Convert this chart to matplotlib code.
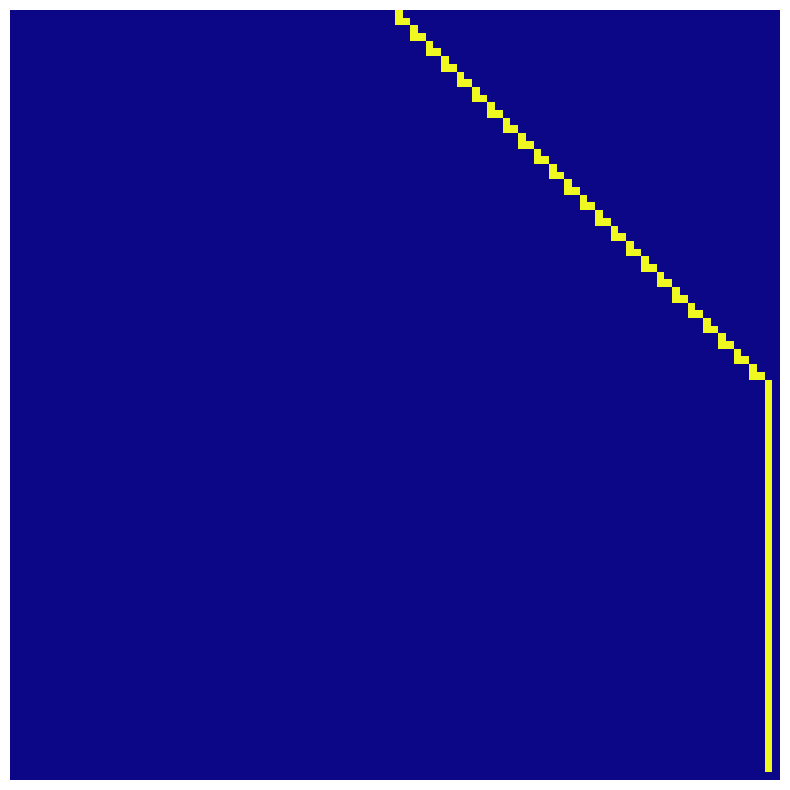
import numpy as np
import matplotlib
matplotlib.use("Agg")
import matplotlib.pyplot as plt

n_rows = 100
n_cols = 100

# staircase: each step is one cell, then two cells on the row below
step_cols = [50, 52, 54, 56, 58, 60, 62, 64, 66, 68, 70, 72,
             74, 76, 78, 80, 82, 84, 86, 88, 90, 92, 94, 96]
# vertical tail after the staircase
tail_col = 98
tail_rows = [48, 98]

grid = np.zeros((n_rows, n_cols))
for k, c in enumerate(step_cols):
    grid[2 * k, c] = 1
    grid[2 * k + 1, c:c + 2] = 1
grid[tail_rows[0]:tail_rows[1] + 1, tail_col] = 1

fig = plt.figure(figsize=(7.9, 7.9), dpi=100)
ax = fig.add_axes([10 / 790, 10 / 790, 770 / 790, 770 / 790])
ax.imshow(grid, cmap="plasma", interpolation="nearest", aspect="auto")
ax.axis("off")

plt.savefig("out.png", dpi=100)
